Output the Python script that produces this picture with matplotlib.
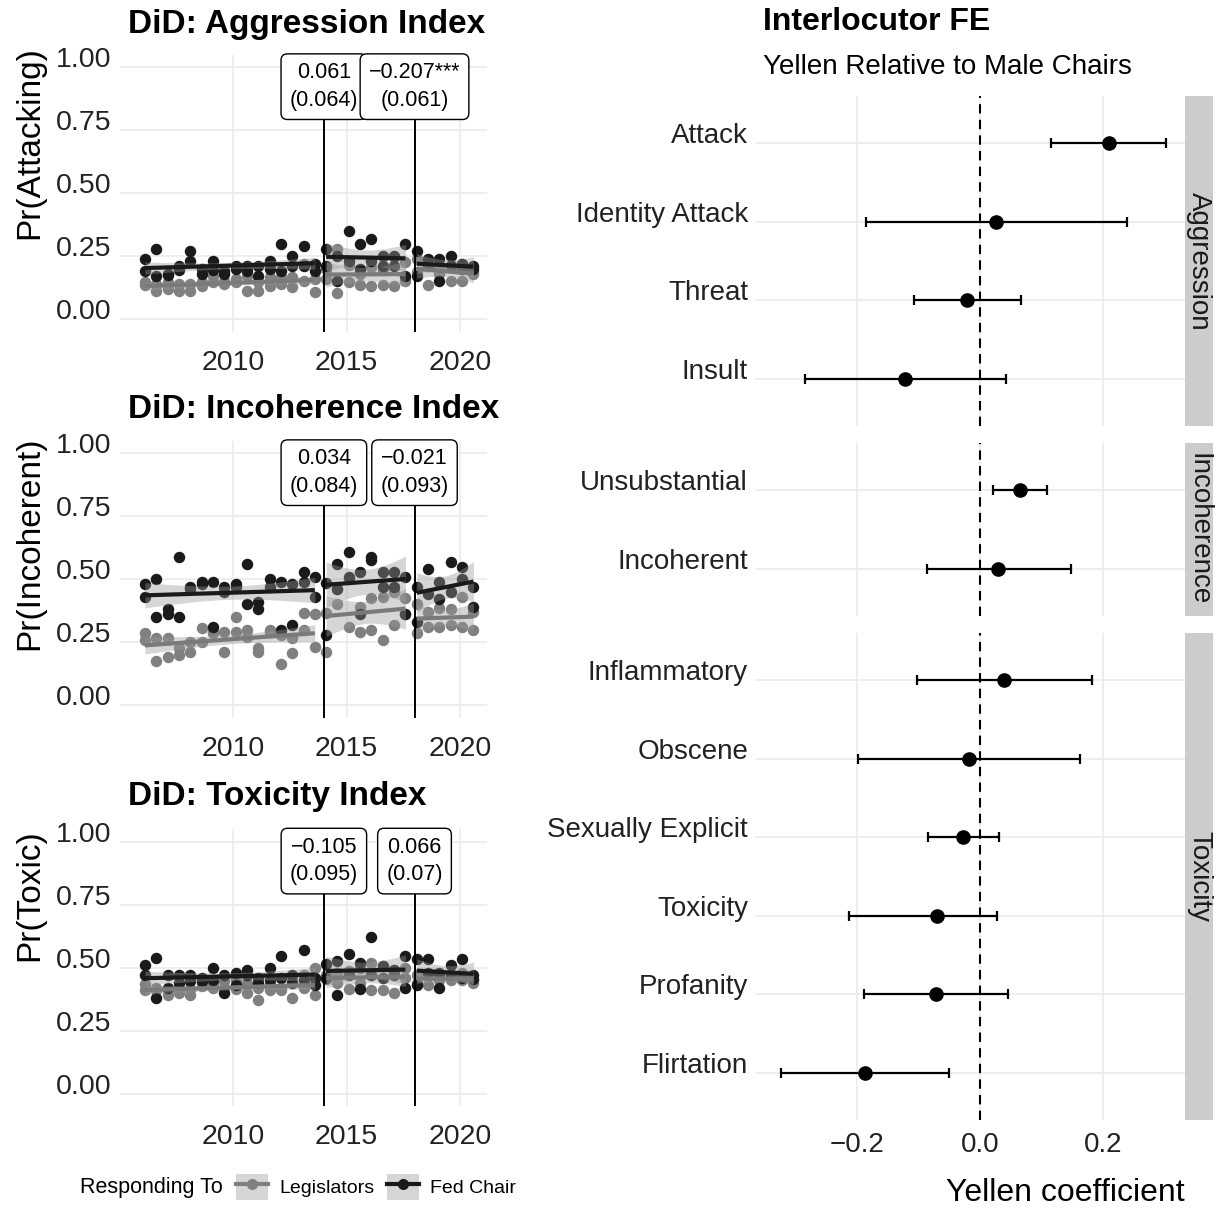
import numpy as np
import matplotlib.pyplot as plt
from matplotlib.patches import Patch
from matplotlib.lines import Line2D
from matplotlib.legend_handler import HandlerTuple

plt.rcParams['font.family'] = ['Liberation Sans', 'DejaVu Sans']

# semi-annual hearing dates, two hearings (House / Senate) at each date
dates = [2006.1, 2006.6, 2007.1, 2007.6, 2008.1, 2008.6, 2009.1, 2009.6,
         2010.1, 2010.6, 2011.1, 2011.6, 2012.1, 2012.6, 2013.1, 2013.6,
         2014.1, 2014.6, 2015.1, 2015.6, 2016.1, 2016.6, 2017.1, 2017.6,
         2018.1, 2018.6, 2019.1, 2019.6, 2020.1, 2020.6]

# aggression index
agg_chair_a = [0.24, 0.28, 0.18, 0.21, 0.27, 0.18, 0.23, 0.18, 0.21, 0.21, 0.21, 0.23, 0.30, 0.25, 0.29, 0.22,
               0.28, 0.25, 0.35, 0.30, 0.32, 0.25, 0.25, 0.30, 0.27, 0.24, 0.24, 0.25, 0.22, 0.21]
agg_chair_b = [0.19, 0.17, 0.175, 0.195, 0.23, 0.20, 0.195, 0.19, 0.20, 0.19, 0.17, 0.20, 0.19, 0.21, 0.21, 0.19,
               0.21, 0.15, 0.23, 0.20, 0.23, 0.21, 0.21, 0.17, 0.17, 0.21, 0.15, 0.21, 0.20, 0.20]
agg_leg_a = [0.146, 0.14, 0.146, 0.14, 0.14, 0.146, 0.173, 0.153, 0.16, 0.173, 0.113, 0.167, 0.14, 0.126, 0.22, 0.106,
             0.20, 0.28, 0.214, 0.137, 0.13, 0.137, 0.13, 0.153, 0.187, 0.137, 0.18, 0.153, 0.153, 0.187]
agg_leg_b = [0.135, 0.113, 0.12, 0.113, 0.113, 0.133, 0.146, 0.14, 0.146, 0.113, 0.146, 0.133, 0.167, 0.167, 0.153, 0.16,
             0.16, 0.103, 0.146, 0.18, 0.207, 0.194, 0.247, 0.227, 0.24, 0.22, 0.207, 0.214, 0.22, 0.18]

# incoherence index
inc_chair_a = [0.48, 0.50, 0.38, 0.59, 0.46, 0.48, 0.49, 0.45, 0.48, 0.56, 0.41, 0.50, 0.49, 0.48, 0.53, 0.51,
               0.485, 0.56, 0.61, 0.53, 0.59, 0.53, 0.53, 0.51, 0.47, 0.54, 0.42, 0.57, 0.55, 0.39]
inc_chair_b = [0.43, 0.35, 0.36, 0.35, 0.47, 0.49, 0.31, 0.47, 0.47, 0.40, 0.38, 0.47, 0.30, 0.32, 0.49, 0.43,
               0.28, 0.46, 0.51, 0.36, 0.575, 0.47, 0.47, 0.36, 0.33, 0.44, 0.49, 0.45, 0.50, 0.47]
inc_leg_a = [0.285, 0.265, 0.265, 0.225, 0.25, 0.305, 0.29, 0.29, 0.35, 0.30, 0.225, 0.30, 0.165, 0.205, 0.365, 0.36,
             0.365, 0.46, 0.50, 0.39, 0.425, 0.43, 0.45, 0.425, 0.40, 0.37, 0.385, 0.38, 0.43, 0.30]
inc_leg_b = [0.26, 0.175, 0.19, 0.20, 0.21, 0.25, 0.285, 0.21, 0.29, 0.27, 0.21, 0.29, 0.28, 0.265, 0.30, 0.23,
             0.21, 0.40, 0.31, 0.29, 0.30, 0.26, 0.32, 0.36, 0.285, 0.31, 0.31, 0.32, 0.31, 0.37]

# toxicity index
tox_chair_a = [0.51, 0.54, 0.47, 0.47, 0.47, 0.445, 0.50, 0.40, 0.48, 0.49, 0.44, 0.50, 0.545, 0.47, 0.57, 0.46,
               0.515, 0.39, 0.555, 0.415, 0.62, 0.505, 0.49, 0.545, 0.535, 0.535, 0.42, 0.51, 0.535, 0.455]
tox_chair_b = [0.47, 0.38, 0.42, 0.44, 0.445, 0.46, 0.45, 0.47, 0.43, 0.47, 0.46, 0.45, 0.46, 0.44, 0.45, 0.43,
               0.46, 0.525, 0.47, 0.52, 0.47, 0.46, 0.47, 0.42, 0.43, 0.48, 0.48, 0.47, 0.46, 0.47]
tox_leg_a = [0.435, 0.42, 0.41, 0.42, 0.415, 0.425, 0.435, 0.42, 0.415, 0.40, 0.42, 0.435, 0.41, 0.455, 0.47, 0.50,
             0.47, 0.48, 0.415, 0.50, 0.41, 0.41, 0.40, 0.50, 0.47, 0.43, 0.47, 0.45, 0.45, 0.45]
tox_leg_b = [0.41, 0.41, 0.39, 0.40, 0.39, 0.44, 0.42, 0.445, 0.45, 0.44, 0.37, 0.41, 0.42, 0.38, 0.42, 0.39,
             0.455, 0.44, 0.485, 0.44, 0.52, 0.505, 0.49, 0.46, 0.44, 0.47, 0.45, 0.47, 0.48, 0.44]

did_titles = ['DiD: Aggression Index', 'DiD: Incoherence Index', 'DiD: Toxicity Index']
did_ylabels = ['Pr(Attacking)', 'Pr(Incoherent)', 'Pr(Toxic)']
did_labels = [['0.061\n(0.064)', '\u22120.207***\n(0.061)'],
              ['0.034\n(0.084)', '\u22120.021\n(0.093)'],
              ['\u22120.105\n(0.095)', '0.066\n(0.07)']]
breaks = [2014, 2018]

# interlocutor fixed effects
fe_group = ['Aggression'] * 4 + ['Incoherence'] * 2 + ['Toxicity'] * 6
fe_labels = ['Attack', 'Identity Attack', 'Threat', 'Insult', 'Unsubstantial', 'Incoherent',
             'Inflammatory', 'Obscene', 'Sexually Explicit', 'Toxicity', 'Profanity', 'Flirtation']
fe_est = [0.21, 0.026, -0.021, -0.122, 0.065, 0.029, 0.039, -0.018, -0.028, -0.070, -0.072, -0.187]
fe_lo = [0.115, -0.185, -0.107, -0.284, 0.021, -0.086, -0.102, -0.198, -0.085, -0.213, -0.189, -0.324]
fe_hi = [0.302, 0.239, 0.066, 0.042, 0.109, 0.148, 0.182, 0.163, 0.031, 0.028, 0.046, -0.050]

W, H = 1221, 1209
BLACK = '#1a1a1a'
GREY = '#808080'
GRID = '#ebebeb'


def box(l, t, r, b):
    return [l / W, 1 - b / H, (r - l) / W, (b - t) / H]


def smooth(ax, x, y, color):
    for lo, hi in [(2000, 2014), (2014, 2018), (2018, 2030)]:
        m = (x >= lo) & (x < hi)
        xs, ys = x[m], y[m]
        b, a = np.polyfit(xs, ys, 1)
        g = np.linspace(xs.min(), xs.max(), 60)
        fit = a + b * g
        n = len(xs)
        s = np.sqrt(((ys - (a + b * xs)) ** 2).sum() / (n - 2))
        se = s * np.sqrt(1 / n + (g - xs.mean()) ** 2 / ((xs - xs.mean()) ** 2).sum())
        t = 1.96 + 2.4 / (n - 2)
        ax.fill_between(g, fit - t * se, fit + t * se, color='#999999', alpha=0.4, lw=0, zorder=3)
        ax.plot(g, fit, color=color, lw=3, solid_capstyle='butt', zorder=4)


fig = plt.figure(figsize=(W / 100, H / 100), dpi=100)

panels = [(agg_chair_a, agg_chair_b, agg_leg_a, agg_leg_b),
          (inc_chair_a, inc_chair_b, inc_leg_a, inc_leg_b),
          (tox_chair_a, tox_chair_b, tox_leg_a, tox_leg_b)]
tops = [54.7, 440.7, 829.1]
title_y = [24, 410, 797]
ylab_y = [143, 543, 895]

x = np.array(dates + dates)
for i, (ca, cb, la, lb) in enumerate(panels):
    ax = fig.add_axes(box(120, tops[i], 487, tops[i] + 277))
    yl = np.array(la + lb)
    yc = np.array(ca + cb)
    ax.scatter(x, yl, s=68, color=GREY, lw=0, zorder=2)
    ax.scatter(x, yc, s=68, color=BLACK, lw=0, zorder=2)
    smooth(ax, x, yl, '#7a7a7a')
    smooth(ax, x, yc, BLACK)
    for bx, lab in zip(breaks, did_labels[i]):
        ax.axvline(bx, color='black', lw=1.4, zorder=5)
        ax.text(bx, 0.923, lab, ha='center', va='center', fontsize=15.5, linespacing=1.4, zorder=6,
                bbox=dict(boxstyle='round,pad=0.4,rounding_size=0.3', fc='white', ec='black', lw=1))
    ax.set_xlim(2005.0, 2021.2)
    ax.set_ylim(-0.05, 1.05)
    ax.set_xticks([2010, 2015, 2020])
    ax.set_yticks([0, 0.25, 0.5, 0.75, 1.0])
    ax.set_yticklabels(['0.00', '0.25', '0.50', '0.75', '1.00'])
    plt.setp(ax.get_yticklabels(), va='baseline')
    ax.tick_params(length=0, labelsize=20.5, colors='#222222', pad=13)
    ax.tick_params(axis='y', pad=6)
    ax.grid(True, color=GRID, lw=1.2)
    ax.set_axisbelow(True)
    for sp in ax.spines.values():
        sp.set_visible(False)
    fig.text(128 / W, 1 - title_y[i] / H, did_titles[i], fontsize=24, fontweight='bold', va='center')
    fig.text(30 / W, 1 - ylab_y[i] / H, did_ylabels[i], fontsize=24, rotation=90, va='center', ha='center')

# legend for the DiD panels
fig.text(80 / W, 1 - 1187 / H, 'Responding To', fontsize=15.5, va='center')
key_bg = Patch(facecolor='#d6d6d6', edgecolor='none')
h_leg = (key_bg, Line2D([], [], color=GREY, lw=3, marker='o', ms=8, mew=0))
h_chair = (key_bg, Line2D([], [], color=BLACK, lw=3, marker='o', ms=8, mew=0))
fig.legend([h_leg, h_chair], ['Legislators', 'Fed Chair'], ncol=2, frameon=False, fontsize=14,
           handler_map={tuple: HandlerTuple(ndivide=1, pad=0)},
           handlelength=1.65, handleheight=1.65, handletextpad=0.6, columnspacing=0.6,
           loc='center left', bbox_to_anchor=(236 / W, 1 - 1187 / H), borderaxespad=0, borderpad=0)

# interlocutor FE panels
fe_est = np.array(fe_est)
fe_lo = np.array(fe_lo)
fe_hi = np.array(fe_hi)
fe_group = np.array(fe_group)
fe_box = {'Aggression': (96, 426), 'Incoherence': (443, 616), 'Toxicity': (633, 1120)}
for k, g in enumerate(['Aggression', 'Incoherence', 'Toxicity']):
    t, b = fe_box[g]
    ax = fig.add_axes(box(755, t, 1185, b))
    idx = np.where(fe_group == g)[0]
    pos = np.arange(len(idx))
    ax.axvline(0, color='black', lw=1.5, ls=(0, (4.5, 3)), zorder=2)
    ax.errorbar(fe_est[idx], pos, xerr=[fe_est[idx] - fe_lo[idx], fe_hi[idx] - fe_est[idx]],
                fmt='o', color='black', ms=9.5, elinewidth=1.6, capsize=3.6, capthick=1.6, zorder=3)
    ax.set_ylim(len(idx) - 0.4, -0.6)
    ax.set_xlim(-0.3659, 0.3333)
    ax.set_yticks(pos)
    ax.set_yticklabels([fe_labels[j] for j in idx])
    plt.setp(ax.get_yticklabels(), va='baseline')
    ax.set_xticks([-0.2, 0.0, 0.2])
    ax.grid(True, color=GRID, lw=1.2)
    ax.set_axisbelow(True)
    ax.tick_params(length=0, labelsize=20, colors='#222222', pad=9)
    ax.tick_params(axis='y', pad=5)
    for sp in ax.spines.values():
        sp.set_visible(False)
    if g != 'Toxicity':
        ax.tick_params(axis='x', labelbottom=False)
    else:
        ax.set_xticklabels(['\u22120.2', '0.0', '0.2'])
        ax.set_xlabel('Yellen coefficient', fontsize=23, loc='right', labelpad=14)
    sax = fig.add_axes(box(1185, t, 1213, b))
    sax.set_facecolor('#cccccc')
    sax.set_xticks([])
    sax.set_yticks([])
    for sp in sax.spines.values():
        sp.set_visible(False)
    sax.text(0.5, 0.5, g, rotation=270, ha='center', va='center', fontsize=20,
             color='#1a1a1a', transform=sax.transAxes)

fig.text(763 / W, 1 - 22 / H, 'Interlocutor FE', fontsize=23, fontweight='bold', va='center')
fig.text(763 / W, 1 - 67 / H, 'Yellen Relative to Male Chairs', fontsize=20, va='center')

fig.savefig('out.png', dpi=100)
